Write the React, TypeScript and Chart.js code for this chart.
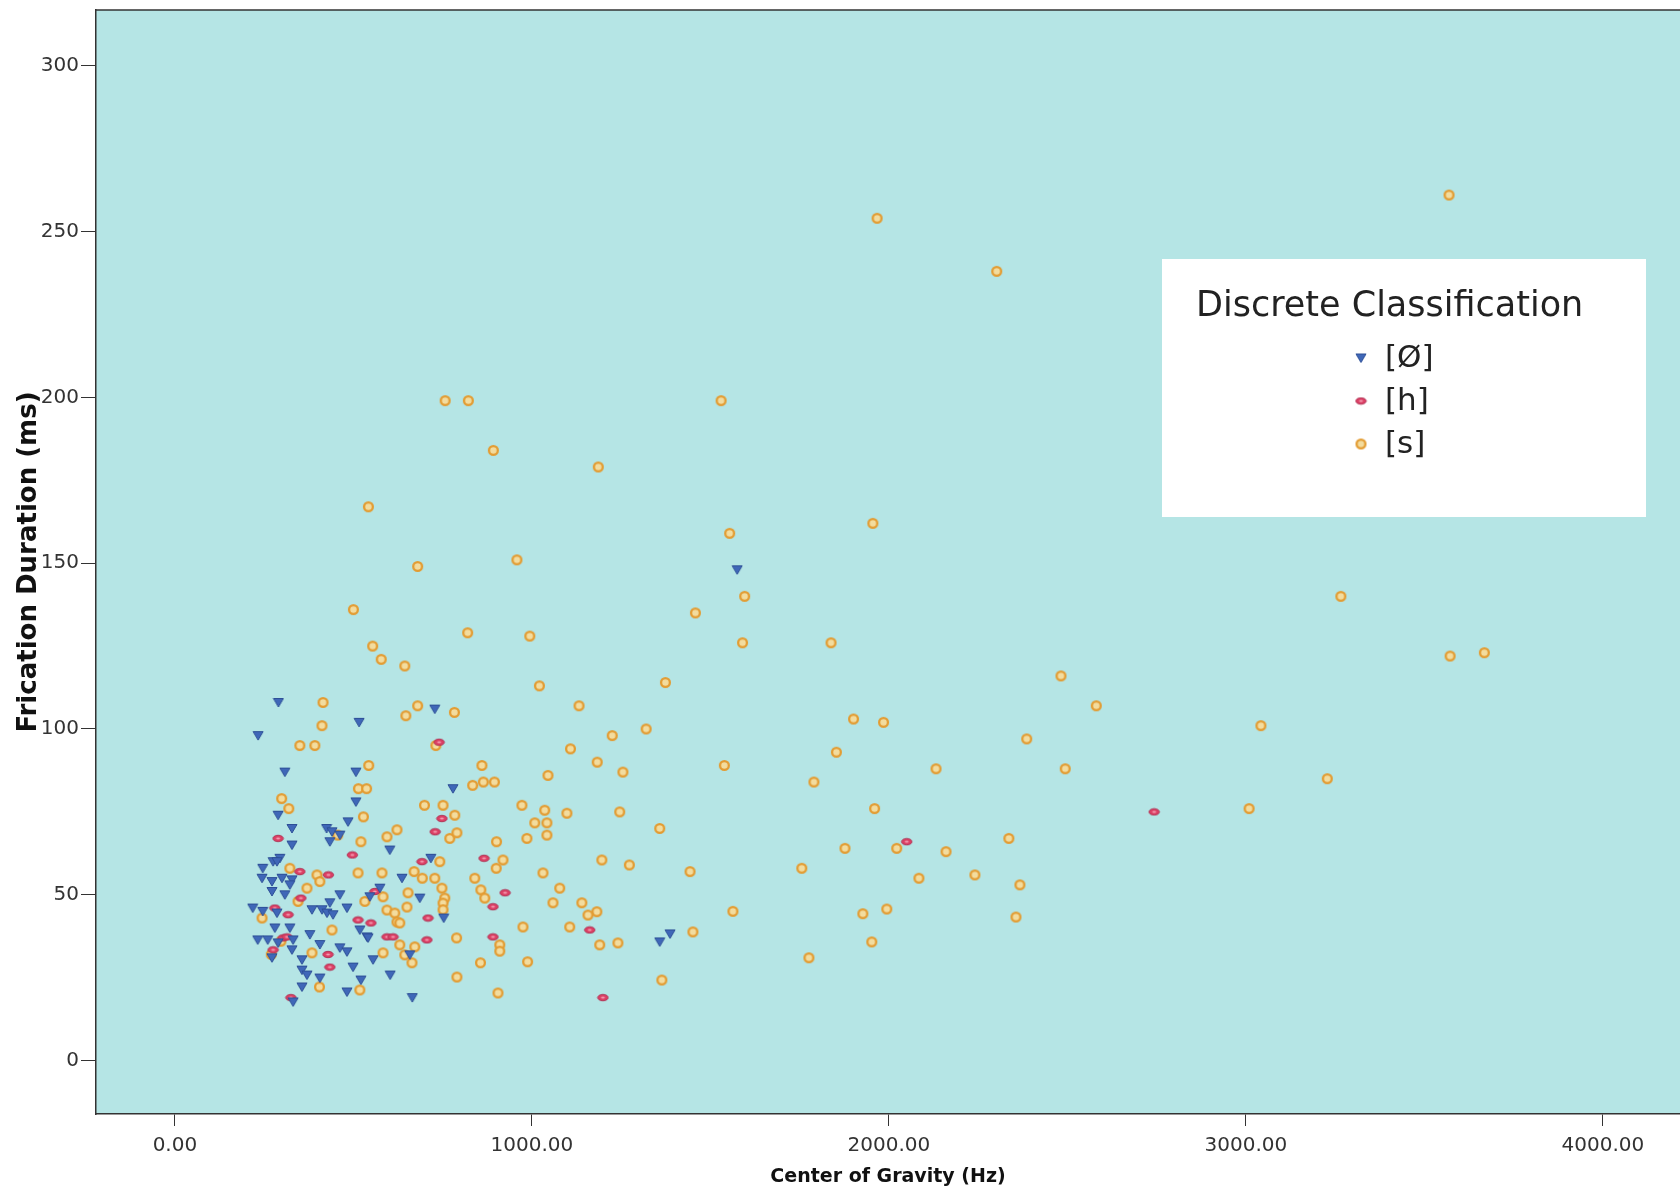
import React, { useEffect, useRef } from 'react';
import { Chart, registerables } from 'chart.js';

Chart.register(...registerables);

const categories = ['[Ø]', '[h]', '[s]'];
const xTickValues = [0, 1000, 2000, 3000, 4000];
const yTickValues = [0, 50, 100, 150, 200, 250, 300];

// [Ø] : [Center of Gravity (Hz), Frication Duration (ms)]
const nullPoints: [number, number][] = [
  [1575, 148], [290, 108], [233, 98], [516, 102], [728, 106], [308, 87], [507, 87], [779, 82], [507, 78],
  [289, 74], [485, 72], [328, 70], [425, 70], [440, 69], [462, 68], [434, 66], [328, 65], [294, 61],
  [275, 60], [286, 60], [246, 58], [244, 55], [272, 54], [300, 55], [328, 54.5], [322, 53], [272, 51],
  [308, 50], [218, 46], [246, 45], [286, 44.5], [384, 45.5], [412, 45.5], [434, 47.6], [462, 50], [482, 46],
  [426, 44.5], [443, 44], [280, 40], [322, 40], [518, 39.4], [538, 37.3], [232, 36.4], [260, 36.4],
  [289, 35.5], [331, 36.4], [328, 33.4], [378, 38], [406, 35], [462, 34], [482, 32.8], [272, 31],
  [356, 30.4], [356, 27.3], [499, 28.2], [370, 25.8], [406, 24.9], [356, 22.2], [521, 24.3], [482, 20.7],
  [331, 17.7], [602, 63.5], [717, 61], [636, 55], [574, 52], [546, 49.4], [686, 49], [753, 43], [541, 37],
  [555, 30.4], [603, 25.8], [658, 31.9], [665, 19], [1358, 35.8], [1387, 38.2]
];

// [h]
const hPoints: [number, number][] = [
  [2743, 75], [2050, 66], [1199, 19], [1162, 39.4], [925, 50.6], [891, 46.4], [891, 37.3], [866, 61],
  [740, 96], [748, 73], [729, 69], [692, 60], [709, 43], [560, 51], [549, 41.5], [594, 37.3], [611, 37.3],
  [706, 36.4], [497, 62], [289, 67], [350, 57], [430, 56], [353, 49], [280, 46], [317, 44], [513, 42.4],
  [303, 37], [314, 37.3], [275, 33.4], [429, 32], [434, 28.2], [325, 19]
];

// [s]
const sPoints: [number, number][] = [
  [3569, 261], [1967, 254], [2302, 238], [757, 199], [822, 199], [1530, 199], [892, 184], [1186, 179],
  [542, 167], [1955, 162], [1554, 159], [958, 151], [680, 149], [1596, 140], [3266, 140], [500, 136],
  [1458, 135], [820, 129], [994, 128], [554, 125], [1590, 126], [1838, 126], [3572, 122], [3668, 123],
  [578, 121], [644, 119], [1374, 114], [1021, 113], [2482, 116], [415, 108], [680, 107], [1132, 107],
  [2581, 107], [647, 104], [783, 105], [1901, 103], [1985, 102], [3042, 101], [412, 101], [1320, 100],
  [350, 95], [392, 95], [731, 95], [1225, 98], [1108, 94], [2386, 97], [1853, 93], [1183, 90], [1539, 89],
  [2132, 88], [2494, 88], [860, 89], [543, 89], [1045, 86], [1255, 87], [3228, 85], [1790, 84], [834, 83],
  [864, 84], [895, 84], [514, 82], [537, 82], [299, 79], [319, 76], [972, 77], [699, 77], [751, 77],
  [1960, 76], [3009, 76], [784, 74], [1036, 75.5], [1098, 74.6], [1246, 75], [528, 73.5], [622, 69.6],
  [1358, 70], [1008, 71.7], [1042, 71.7], [770, 67], [790, 68.7], [1042, 68], [594, 67.5], [456, 68],
  [2336, 67], [986, 67], [2022, 64], [1877, 64], [2160, 63], [521, 66], [742, 60], [901, 66], [1196, 60.5],
  [1273, 59], [1443, 57], [919, 60.5], [900, 58], [1756, 58], [2084, 55], [2241, 56], [2367, 53], [322, 58],
  [398, 56], [406, 54], [513, 56.6], [370, 52], [532, 48], [244, 43], [440, 39.4], [384, 32.5], [405, 22.2],
  [518, 21.3], [580, 56.6], [670, 57], [693, 55], [728, 55], [748, 52], [756, 49], [751, 47.5], [751, 45.5],
  [840, 55], [857, 51.5], [868, 49], [653, 50.6], [583, 49.4], [650, 46.3], [594, 45.4], [616, 44.5],
  [622, 41.8], [630, 41.5], [630, 34.9], [672, 34.3], [644, 31.9], [664, 29.5], [583, 32.5], [789, 37],
  [856, 29.5], [790, 25.2], [1031, 56.6], [1078, 52], [1059, 47.6], [1140, 47.6], [1182, 44.9], [1157, 43.9],
  [975, 40.3], [1106, 40.3], [1451, 38.8], [910, 34.9], [910, 33], [1190, 34.9], [1241, 35.5], [988, 29.8],
  [1364, 24.3], [905, 20.4], [1563, 45], [1927, 44.3], [1994, 45.7], [2356, 43.3], [1952, 35.8], [1776, 31],
  [297, 36], [270, 32], [345, 48]
];

const toXY = (pts: [number, number][]) => pts.map(([x, y]) => ({ x, y }));

function makeMarker(w: number, h: number, draw: (ctx: CanvasRenderingContext2D) => void) {
  const c = document.createElement('canvas');
  c.width = w;
  c.height = h;
  const ctx = c.getContext('2d')!;
  draw(ctx);
  return c;
}

export default function App() {
  const ref = useRef<HTMLCanvasElement>(null);

  useEffect(() => {
    const canvas = ref.current!;

    const tri = makeMarker(12, 11, (ctx) => {
      ctx.beginPath();
      ctx.moveTo(1, 1.5);
      ctx.lineTo(11, 1.5);
      ctx.lineTo(6, 10);
      ctx.closePath();
      ctx.fillStyle = '#3f67b8';
      ctx.fill();
      ctx.strokeStyle = '#2d4f97';
      ctx.lineWidth = 1;
      ctx.stroke();
    });
    const ell = makeMarker(13, 9, (ctx) => {
      ctx.beginPath();
      ctx.ellipse(6.5, 4.5, 5.2, 3.2, 0, 0, Math.PI * 2);
      ctx.fillStyle = '#dc3f65';
      ctx.fill();
      ctx.strokeStyle = '#ad3052';
      ctx.lineWidth = 1;
      ctx.stroke();
      ctx.beginPath();
      ctx.ellipse(6.5, 4.5, 2, 0.9, 0, 0, Math.PI * 2);
      ctx.fillStyle = '#f39bb0';
      ctx.fill();
    });
    const ring = makeMarker(13, 13, (ctx) => {
      ctx.beginPath();
      ctx.arc(6.5, 6.5, 4.4, 0, Math.PI * 2);
      ctx.fillStyle = '#f3dc9e';
      ctx.fill();
      ctx.strokeStyle = '#e39c32';
      ctx.lineWidth = 2.3;
      ctx.stroke();
    });
    const markers = [tri, ell, ring];

    const bgPlugin = {
      id: 'plotBg',
      beforeDraw(chart: any) {
        const { ctx, chartArea } = chart;
        ctx.save();
        ctx.fillStyle = '#b5e5e5';
        ctx.fillRect(chartArea.left, chartArea.top, chartArea.right - chartArea.left, chartArea.bottom - chartArea.top);
        ctx.restore();
      },
      afterDraw(chart: any) {
        const { ctx, chartArea } = chart;
        ctx.save();
        ctx.strokeStyle = '#333';
        ctx.lineWidth = 1.5;
        ctx.beginPath();
        ctx.moveTo(chartArea.left, chartArea.top);
        ctx.lineTo(chartArea.right, chartArea.top);
        ctx.stroke();
        ctx.restore();
      }
    };

    const legendPlugin = {
      id: 'boxLegend',
      afterDraw(chart: any) {
        const { ctx } = chart;
        ctx.save();
        ctx.fillStyle = '#ffffff';
        ctx.fillRect(1162, 259, 484, 258);
        ctx.fillStyle = '#222';
        ctx.font = '35px "DejaVu Sans"';
        ctx.textAlign = 'left';
        ctx.textBaseline = 'alphabetic';
        ctx.fillText('Discrete Classification', 1196, 316);
        ctx.font = '31px "DejaVu Sans"';
        ctx.textBaseline = 'middle';
        const ys = [358, 401, 444];
        categories.forEach((label, i) => {
          const m = markers[i];
          ctx.drawImage(m, 1361 - m.width / 2, ys[i] - m.height / 2);
          ctx.fillText(label, 1385, ys[i] + 1);
        });
        ctx.restore();
      }
    };

    const chart = new Chart(canvas, {
      type: 'scatter',
      data: {
        datasets: [
          { label: categories[0], data: toXY(nullPoints), pointStyle: tri as any, pointRadius: 6 },
          { label: categories[1], data: toXY(hPoints), pointStyle: ell as any, pointRadius: 6 },
          { label: categories[2], data: toXY(sPoints), pointStyle: ring as any, pointRadius: 6 }
        ]
      },
      options: {
        animation: false,
        responsive: false,
        maintainAspectRatio: false,
        layout: { autoPadding: false, padding: { top: 10, left: 0, right: 0, bottom: 0 } },
        plugins: {
          legend: { display: false },
          tooltip: { enabled: false }
        },
        scales: {
          x: {
            type: 'linear',
            min: -221,
            max: 4216,
            afterBuildTicks: (s: any) => {
              s.ticks = xTickValues.map((v) => ({ value: v }));
            },
            afterFit: (s: any) => {
              s.height = 79;
              s.paddingLeft = 0;
              s.paddingRight = 0;
            },
            ticks: {
              callback: (v: any) => Number(v).toFixed(2),
              font: { family: 'DejaVu Sans', size: 20 },
              color: '#333',
              padding: 8,
              maxRotation: 0,
              autoSkip: false
            },
            grid: { drawOnChartArea: false, drawTicks: true, tickLength: 12, color: '#333', lineWidth: 1 },
            border: { display: true, color: '#333', width: 1.5 },
            title: {
              display: true,
              text: 'Center of Gravity (Hz)',
              font: { family: 'DejaVu Sans', size: 19, weight: 'bold' },
              color: '#111',
              padding: { top: 0, bottom: 5 }
            }
          },
          y: {
            type: 'linear',
            min: -16.1,
            max: 316.8,
            afterBuildTicks: (s: any) => {
              s.ticks = yTickValues.map((v) => ({ value: v }));
            },
            afterFit: (s: any) => {
              s.width = 96;
              s.paddingTop = 0;
              s.paddingBottom = 0;
            },
            ticks: {
              callback: (v: any) => String(v),
              font: { family: 'DejaVu Sans', size: 20 },
              color: '#333',
              padding: 2,
              autoSkip: false
            },
            grid: { drawOnChartArea: false, drawTicks: true, tickLength: 15, color: '#333', lineWidth: 1 },
            border: { display: true, color: '#333', width: 1.5 },
            title: {
              display: true,
              text: 'Frication Duration (ms)',
              font: { family: 'DejaVu Sans', size: 26, weight: 'bold' },
              color: '#111',
              padding: { top: 14, bottom: 0 }
            }
          }
        }
      },
      plugins: [bgPlugin, legendPlugin]
    });

    return () => chart.destroy();
  }, []);

  return (
    <canvas
      ref={ref}
      width={1680}
      height={1193}
      style={{ position: 'fixed', left: 0, top: 0, width: 1680, height: 1193 }}
    />
  );
}
